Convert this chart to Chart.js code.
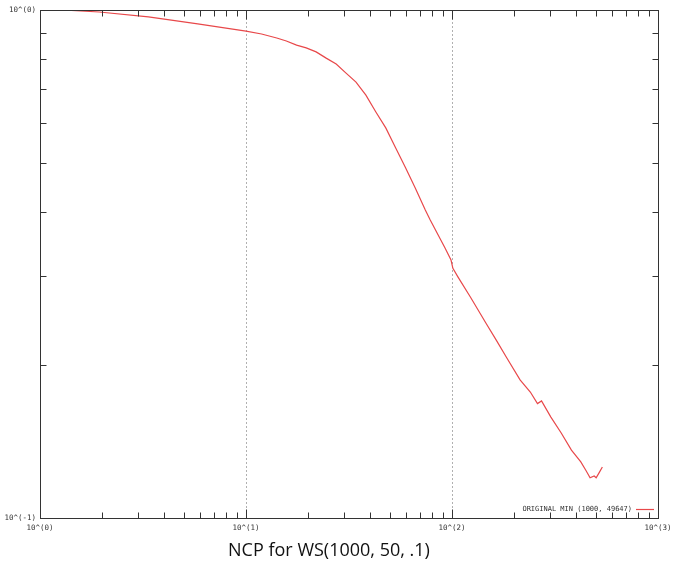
<!DOCTYPE html>
<html>
<head>
<meta charset="utf-8">
<script src="https://cdn.jsdelivr.net/npm/chart.js@4.4.0/dist/chart.umd.min.js"></script>
<style>
  html, body { margin: 0; padding: 0; background: #fff; }
</style>
</head>
<body>
<canvas id="chart" width="674" height="569"></canvas>
<script>
// cluster size (x) and conductance (y)
var clusterSize = [1.14, 1.42, 1.94, 3.36, 5.83, 10, 11.9, 14.1, 15.7, 17.6,
  19.6, 21.9, 24.5, 27.4, 30.6, 34.2, 38.2, 42.7, 47.7, 53.3,
  59.5, 66.4, 74.2, 78.4, 92.5, 98.9, 101, 107, 123, 146,
  164, 184, 214, 240, 260, 272, 302, 339, 380, 422,
  447, 468, 490, 501, 519, 537];
var conductance = [1.0, 0.998, 0.991, 0.969, 0.939, 0.909, 0.897, 0.881, 0.869, 0.853,
  0.842, 0.827, 0.804, 0.783, 0.751, 0.721, 0.680, 0.630, 0.586, 0.535,
  0.489, 0.446, 0.404, 0.386, 0.340, 0.322, 0.310, 0.298, 0.272, 0.242,
  0.224, 0.207, 0.187, 0.177, 0.168, 0.170, 0.158, 0.147, 0.136, 0.129,
  0.124, 0.120, 0.121, 0.120, 0.123, 0.126];

var xDecades = [1, 10, 100, 1000];
var xDecadeLabels = ['10^(0)', '10^(1)', '10^(2)', '10^(3)'];
var yDecades = [0.1, 1];
var yDecadeLabels = ['10^(-1)', '10^(0)'];
var xGridLines = [10, 100];
var seriesName = 'ORIGINAL MIN (1000, 49647)';
var chartTitle = 'NCP for WS(1000, 50, .1)';

var lineColor = '#e8484a';
var axisColor = '#333';
var monoFont = "'DejaVu Sans Mono', monospace";

function decadeLabel(value, decades, labels) {
  for (var i = 0; i < decades.length; i++) {
    if (Math.abs(Math.log10(value) - Math.log10(decades[i])) < 1e-6) return labels[i];
  }
  return '';
}

var points = [];
for (var i = 0; i < clusterSize.length; i++) {
  points.push({ x: clusterSize[i], y: conductance[i] });
}

// frame, inward tick marks, dotted grid and the in-plot key
var gnuplotFrame = {
  id: 'gnuplotFrame',
  beforeDatasetsDraw: function(chart) {
    var ctx = chart.ctx, a = chart.chartArea, xs = chart.scales.x;
    ctx.save();
    ctx.strokeStyle = '#b0b0b0';
    ctx.lineWidth = 1;
    ctx.setLineDash([2, 2]);
    xGridLines.forEach(function(v) {
      var px = Math.round(xs.getPixelForValue(v)) + 0.5;
      ctx.beginPath();
      ctx.moveTo(px, a.top);
      ctx.lineTo(px, a.bottom);
      ctx.stroke();
    });
    ctx.restore();
  },
  afterDatasetsDraw: function(chart) {
    var ctx = chart.ctx, a = chart.chartArea;
    var xs = chart.scales.x, ys = chart.scales.y;
    ctx.save();
    ctx.strokeStyle = axisColor;
    ctx.lineWidth = 1;
    var l = Math.round(a.left) + 0.5, r = Math.round(a.right) + 0.5;
    var t = Math.round(a.top) + 0.5, b = Math.round(a.bottom) + 0.5;
    ctx.strokeRect(l, t, r - l, b - t);

    ctx.beginPath();
    [1, 10, 100].forEach(function(d) {
      for (var k = 1; k <= 9; k++) {
        var v = d * k;
        if (v === 1) continue;
        var len = (k === 1) ? 9 : 6;
        var px = Math.round(xs.getPixelForValue(v)) + 0.5;
        ctx.moveTo(px, b); ctx.lineTo(px, b - len);
        ctx.moveTo(px, t); ctx.lineTo(px, t + len);
      }
    });
    for (var k = 2; k <= 9; k++) {
      var py = Math.round(ys.getPixelForValue(0.1 * k)) + 0.5;
      ctx.moveTo(l, py); ctx.lineTo(l + 6, py);
      ctx.moveTo(r, py); ctx.lineTo(r - 6, py);
    }
    ctx.stroke();

    // key
    var ky = Math.round(a.bottom - 9) + 0.5;
    ctx.strokeStyle = lineColor;
    ctx.lineWidth = 1.2;
    ctx.beginPath();
    ctx.moveTo(a.right - 22, ky);
    ctx.lineTo(a.right - 4, ky);
    ctx.stroke();
    ctx.fillStyle = axisColor;
    ctx.font = '7px ' + monoFont;
    ctx.textAlign = 'right';
    ctx.textBaseline = 'middle';
    ctx.fillText(seriesName, a.right - 26, ky);
    ctx.restore();
  }
};

var ctx = document.getElementById('chart').getContext('2d');
var chart = new Chart(ctx, {
  type: 'line',
  data: {
    datasets: [{
      label: seriesName,
      data: points,
      borderColor: lineColor,
      borderWidth: 1.2,
      pointRadius: 0,
      tension: 0,
      fill: false
    }]
  },
  options: {
    responsive: false,
    animation: false,
    layout: { padding: { left: 0, right: 16, top: 10, bottom: 0 } },
    plugins: {
      legend: { display: false },
      tooltip: { enabled: false },
      title: {
        display: true,
        position: 'bottom',
        text: chartTitle,
        color: '#111',
        font: { family: "'Open Sans', sans-serif", size: 18, weight: 'normal' },
        padding: { top: 4, bottom: 7 }
      }
    },
    scales: {
      x: {
        type: 'logarithmic',
        min: 1,
        max: 1000,
        grid: { display: false, drawTicks: false },
        border: { display: false },
        ticks: {
          autoSkip: false,
          maxRotation: 0,
          padding: 6,
          color: axisColor,
          font: { family: monoFont, size: 7.5 },
          callback: function(value) { return decadeLabel(value, xDecades, xDecadeLabels); }
        },
        afterFit: function(s) { s.height = 18.4; s.paddingLeft = 0; s.paddingRight = 0; }
      },
      y: {
        type: 'logarithmic',
        min: 0.1,
        max: 1,
        grid: { display: false, drawTicks: false },
        border: { display: false },
        ticks: {
          autoSkip: false,
          padding: 4,
          color: axisColor,
          font: { family: monoFont, size: 7.5 },
          callback: function(value) { return decadeLabel(value, yDecades, yDecadeLabels); }
        },
        afterFit: function(s) { s.width = 40; s.paddingTop = 0; s.paddingBottom = 0; }
      }
    }
  },
  plugins: [gnuplotFrame]
});
</script>
</body>
</html>
